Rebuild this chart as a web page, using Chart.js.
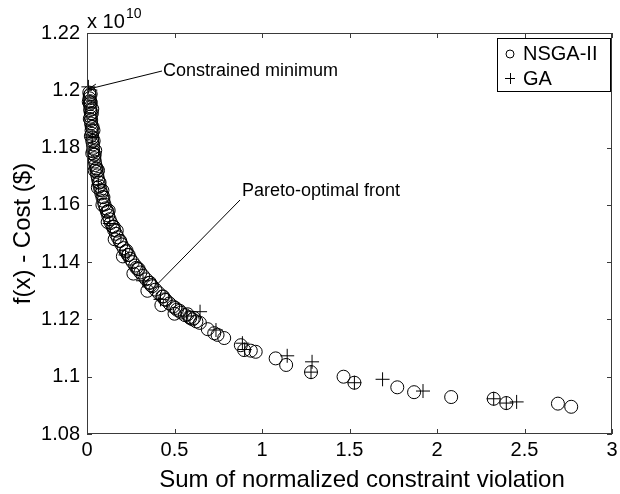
<!DOCTYPE html>
<html>
<head>
<meta charset="utf-8">
<script src="https://cdn.jsdelivr.net/npm/chart.js@4/dist/chart.umd.min.js"></script>
<style>
body{margin:0;background:#fff;}
canvas{display:block;}
</style>
</head>
<body>
<canvas id="chart" width="620" height="494"></canvas>
<script>

/* data (cost in units of 1e10) */

const nsgaX = [0.013,0.016,0.014,0.018,0.016,0.020,0.018,0.022,0.021,0.024,0.023,0.027,0.026,0.029,0.031,0.030,0.034,0.036,0.035,0.039,
0.042,0.045,0.048,0.052,0.055,0.059,0.063,0.067,0.072,0.077,0.082,0.088,0.094,0.100,0.107,0.114,0.121,0.129,0.137,0.146,
0.155,0.165,0.175,0.186,0.197,0.209,0.221,0.234,0.247,0.261,0.275,0.290,0.305,0.321,0.338,0.355,0.373,0.391,0.410,0.430,
0.450,0.471,0.492,0.514,0.537,0.560,0.585,0.604,0.625,0.645,
0.690,0.727,0.746,0.784,0.879,0.898,0.936,0.964,1.078,1.138,1.280,1.466,1.528,1.773,1.869,2.081,2.324,2.396,2.691,2.767];

const nsgaY = [1.1992,1.1982,1.1972,1.1962,1.1952,1.1942,1.1931,1.1920,1.1908,1.1896,1.1884,1.1872,1.1860,1.1848,1.1835,1.1823,1.1811,1.1799,1.1787,1.1775,
1.1763,1.1751,1.1739,1.1727,1.1715,1.1703,1.1690,1.1678,1.1665,1.1652,1.1640,1.1627,1.1614,1.1601,1.1588,1.1576,1.1563,1.1550,1.1537,1.1524,
1.1512,1.1499,1.1487,1.1474,1.1462,1.1449,1.1437,1.1425,1.1412,1.1400,1.1388,1.1376,1.1364,1.1352,1.1340,1.1328,1.1316,1.1304,1.1292,1.1280,
1.1268,1.1256,1.1245,1.1234,1.1224,1.1215,1.1208,1.1200,1.1193,1.1188,
1.1166,1.1152,1.1146,1.1135,1.1110,1.1093,1.1091,1.1087,1.1064,1.1041,1.1016,1.1000,1.0979,1.0963,1.0946,1.0929,1.0923,1.0908,1.0906,1.0895];

/* more NSGA-II points scattered around the dense part of the front */
const nsgaBandX = [0.021,0.022,0.028,0.032,0.038,0.044,0.056,0.072,0.094,0.118,0.152,0.190,0.238,0.295,0.360,0.435,0.505,0.590,
0.010,0.016,0.022,0.030,0.044,0.062,0.088,0.118,0.158,0.205,0.265,0.345,0.425,0.500,
0.030,0.037,0.047,0.063,0.088,0.124,0.170,0.226,0.282,0.365,0.445,0.530,0.575,0.612];
const nsgaBandY = [1.1987,1.1957,1.1920,1.1872,1.1823,1.1775,1.1727,1.1678,1.1627,1.1576,1.1524,1.1474,1.1425,1.1376,1.1328,1.1280,1.1240,1.1205,
1.1960,1.1900,1.1840,1.1780,1.1720,1.1660,1.1600,1.1540,1.1480,1.1420,1.1360,1.1300,1.1250,1.1220,
1.1935,1.1860,1.1790,1.1720,1.1650,1.1580,1.1510,1.1440,1.1380,1.1320,1.1270,1.1230,1.1218,1.1205];

const gaX = [0.008,0.030,0.065,0.130,0.220,0.320,0.420,0.570,0.646,0.737,0.888,0.901,1.144,1.286,1.280,1.528,1.689,1.920,2.324,2.396,2.455];
const gaY = [1.2012,1.1835,1.1670,1.1535,1.1425,1.1335,1.1270,1.1212,1.1227,1.1163,1.1117,1.1095,1.1073,1.1052,1.1016,1.0979,1.0991,1.0950,1.0923,1.0908,1.0912];

const xTicks = [0,0.5,1,1.5,2,2.5,3];
const yTicks = [1.08,1.10,1.12,1.14,1.16,1.18,1.20,1.22];

const FONT = "'Liberation Sans', Arial, sans-serif";

/* extras drawn on top: box, inside ticks, titles, notes, legend */

const extras = {
id: "extras",
afterDraw(chart){

const ctx = chart.ctx;
const a = chart.chartArea;
const xs = chart.scales.x;
const ys = chart.scales.y;

ctx.save();

ctx.strokeStyle = "#3a3a3a";
ctx.lineWidth = 1;
ctx.strokeRect(a.left + 0.5, a.top + 0.5, a.right - a.left - 1, a.bottom - a.top - 1);

ctx.beginPath();
xTicks.forEach(v => {
let px = Math.round(xs.getPixelForValue(v)) + 0.5;
ctx.moveTo(px, a.bottom); ctx.lineTo(px, a.bottom - 5);
ctx.moveTo(px, a.top); ctx.lineTo(px, a.top + 5);
});
yTicks.forEach(v => {
let py = Math.round(ys.getPixelForValue(v)) + 0.5;
ctx.moveTo(a.left, py); ctx.lineTo(a.left + 5, py);
ctx.moveTo(a.right, py); ctx.lineTo(a.right - 5, py);
});
ctx.stroke();

ctx.fillStyle = "#000";

/* axis titles */
ctx.font = "24px " + FONT;
ctx.textAlign = "center";
ctx.textBaseline = "alphabetic";
ctx.fillText("Sum of normalized constraint violation", 362, 487);

ctx.save();
ctx.translate(30, (a.top + a.bottom) / 2);
ctx.rotate(-Math.PI / 2);
ctx.fillText("f(x) - Cost ($)", 0, 0);
ctx.restore();

/* exponent */
ctx.textAlign = "left";
ctx.font = "20px " + FONT;
ctx.fillText("x 10", 87, 28);
ctx.font = "14px " + FONT;
ctx.fillText("10", 126, 18);

/* annotations */
ctx.font = "18px " + FONT;
ctx.textBaseline = "middle";
ctx.fillText("Constrained minimum", 163, 71);
ctx.fillText("Pareto-optimal front", 242, 191);

let tipX = xs.getPixelForValue(0.008), tipY = ys.getPixelForValue(1.2004);
ctx.strokeStyle = "#000";
ctx.beginPath();
ctx.moveTo(162, 71);
ctx.lineTo(tipX, tipY);
ctx.stroke();
let ang = Math.atan2(tipY - 71, tipX - 162);
ctx.beginPath();
ctx.moveTo(tipX - 9 * Math.cos(ang - 0.35), tipY - 9 * Math.sin(ang - 0.35));
ctx.lineTo(tipX, tipY);
ctx.lineTo(tipX - 9 * Math.cos(ang + 0.35), tipY - 9 * Math.sin(ang + 0.35));
ctx.stroke();

ctx.beginPath();
ctx.moveTo(240, 200);
ctx.lineTo(xs.getPixelForValue(0.405), ys.getPixelForValue(1.1325));
ctx.stroke();

/* legend */
ctx.fillStyle = "#fff";
ctx.fillRect(497, 38, 113, 53);
ctx.strokeStyle = "#000";
ctx.strokeRect(497.5, 38.5, 113, 53);
ctx.beginPath();
ctx.arc(510, 54, 4, 0, Math.PI * 2);
ctx.stroke();
ctx.beginPath();
ctx.moveTo(505, 78.5); ctx.lineTo(515, 78.5);
ctx.moveTo(510.5, 73); ctx.lineTo(510.5, 84);
ctx.stroke();
ctx.fillStyle = "#000";
ctx.font = "20px " + FONT;
ctx.fillText("NSGA-II", 523, 54);
ctx.fillText("GA", 523, 79);

ctx.restore();
}
};

const circleStyle = {
pointStyle: "circle",
pointRadius: 6.5,
borderColor: "#000",
borderWidth: 1,
backgroundColor: "rgba(0,0,0,0)",
clip: false
};

new Chart(document.getElementById("chart"), {
type: "scatter",
data: {
datasets: [Object.assign({
label: "NSGA-II",
data: nsgaX.map((x, i) => ({x: x, y: nsgaY[i]}))
}, circleStyle), Object.assign({
label: "NSGA-II band",
data: nsgaBandX.map((x, i) => ({x: x, y: nsgaBandY[i]}))
}, circleStyle), {
label: "GA",
data: gaX.map((x, i) => ({x: x, y: gaY[i]})),
pointStyle: "cross",
pointRadius: 7,
borderColor: "#000",
borderWidth: 1,
backgroundColor: "#000",
clip: false
}]
},
options: {
responsive: false,
animation: false,
devicePixelRatio: 1,
layout: {padding: {left: 0, right: 5, top: 33, bottom: 0}},
plugins: {legend: {display: false}, tooltip: {enabled: false}},
scales: {
x: {
type: "linear",
min: 0, max: 3,
afterBuildTicks: s => { s.ticks = xTicks.map(v => ({value: v})); },
afterFit: s => { s.height = 60; s.paddingLeft = 0; s.paddingRight = 0; },
grid: {display: false, drawTicks: false},
border: {display: false},
ticks: {color: "#000", padding: 4, font: {family: FONT, size: 20}, callback: v => String(v)}
},
y: {
type: "linear",
min: 1.08, max: 1.22,
afterBuildTicks: s => { s.ticks = yTicks.map(v => ({value: v})); },
afterFit: s => { s.width = 87; s.paddingTop = 0; s.paddingBottom = 0; },
grid: {display: false, drawTicks: false},
border: {display: false},
ticks: {color: "#000", padding: 7, font: {family: FONT, size: 20}, callback: v => String(Number(v.toFixed(2)))}
}
}
},
plugins: [extras]
});

</script>
</body>
</html>
